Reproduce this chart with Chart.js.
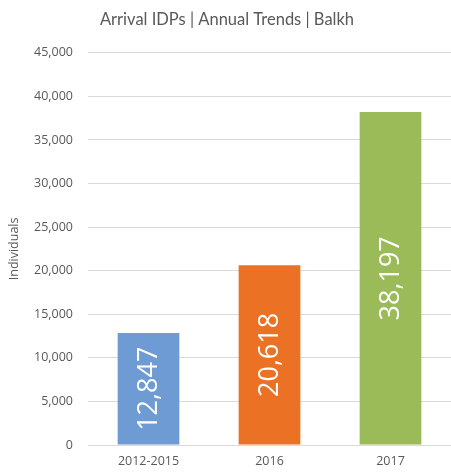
<!DOCTYPE html>
<html>
<head>
<meta charset="utf-8">
<script src="https://cdn.jsdelivr.net/npm/chart.js@4/dist/chart.umd.min.js"></script>
<style>
  html, body { margin: 0; padding: 0; background: #ffffff; }
  #wrap { width: 451px; height: 474px; }
</style>
</head>
<body>
<div id="wrap"><canvas id="myChart" width="451" height="474"></canvas></div>
<script>
// chart data
const categories = ['2012-2015', '2016', '2017'];
const individuals = [12847, 20618, 38197];
const barColors = ['#6f9bd5', '#eb7125', '#9bbb59'];
const yTicks = [0, 5000, 10000, 15000, 20000, 25000, 30000, 35000, 40000, 45000];

// draws the value inside each bar, turned on its side
const barValueLabels = {
  id: 'barValueLabels',
  afterDatasetsDraw(chart) {
    const ctx = chart.ctx;
    const meta = chart.getDatasetMeta(0);
    ctx.save();
    ctx.fillStyle = '#ffffff';
    ctx.font = '27px "Open Sans", Calibri, sans-serif';
    ctx.textAlign = 'center';
    ctx.textBaseline = 'middle';
    meta.data.forEach(function (bar, i) {
      const midY = (bar.y + bar.base) / 2;
      ctx.save();
      ctx.translate(bar.x, midY);
      ctx.rotate(-Math.PI / 2);
      ctx.fillText(individuals[i].toLocaleString('en-US'), 0, 1);
      ctx.restore();
    });
    ctx.restore();
  }
};

const config = {
  type: 'bar',
  data: {
    labels: categories,
    datasets: [{
      label: 'Individuals',
      data: individuals,
      backgroundColor: barColors,
      borderWidth: 0,
      categoryPercentage: 1,
      barPercentage: 0.51
    }]
  },
  options: {
    responsive: false,
    animation: false,
    layout: { padding: { left: 0, right: -3, top: 0, bottom: 0 } },
    scales: {
      x: {
        grid: { display: false, drawTicks: false },
        border: { display: false },
        ticks: {
          color: '#595959',
          font: { family: '"Open Sans", Calibri, sans-serif', size: 12.5 },
          padding: 9
        },
        afterFit: function (scale) { scale.height = 29; }
      },
      y: {
        min: 0,
        max: 45000,
        afterBuildTicks: function (scale) {
          scale.ticks = yTicks.map(v => ({ value: v }));
        },
        grid: { color: '#d9d9d9', lineWidth: 1, drawTicks: false },
        border: { display: false },
        ticks: {
          color: '#595959',
          font: { family: '"Open Sans", Calibri, sans-serif', size: 12.5 },
          padding: 15,
          callback: function (value) { return value.toLocaleString('en-US'); }
        },
        title: {
          display: true,
          text: 'Individuals',
          color: '#595959',
          font: { family: '"Open Sans", Calibri, sans-serif', size: 12.5 },
          padding: { top: 7, bottom: 0 }
        },
        afterFit: function (scale) { scale.width = 88; }
      }
    },
    plugins: {
      legend: { display: false },
      tooltip: { enabled: false },
      title: {
        display: true,
        text: 'Arrival IDPs | Annual Trends | Balkh',
        color: '#595959',
        font: { family: 'Lato, sans-serif', size: 16.5, weight: 'normal' },
        padding: { top: 10, bottom: 23 }
      }
    }
  },
  plugins: [barValueLabels]
};

const myChart = new Chart(document.getElementById('myChart'), config);
</script>
</body>
</html>
